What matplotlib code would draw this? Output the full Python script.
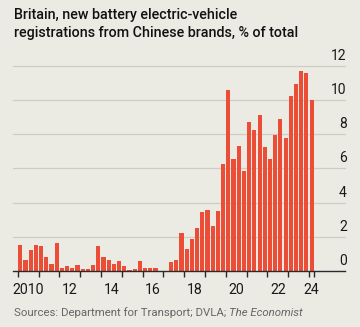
import matplotlib.pyplot as plt
import matplotlib.transforms as mtransforms
import numpy as np

# Quarterly share of new BEV registrations from Chinese brands, 2010 Q1 - 2024 Q1
years = list(range(2010, 2025))
share = [
    1.50, 0.65, 1.20, 1.50,    # 2010
    1.45, 0.80, 0.42, 1.63,    # 2011
    0.20, 0.32, 0.17, 0.36,    # 2012
    0.10, 0.14, 0.37, 1.46,    # 2013
    0.82, 0.62, 0.40, 0.57,    # 2014
    0.30, 0.08, 0.14, 0.56,    # 2015
    0.15, 0.15, 0.15, 0.00,    # 2016
    0.00, 0.50, 0.67, 2.20,    # 2017
    1.26, 1.88, 2.49, 3.47,    # 2018
    3.58, 2.64, 3.51, 6.27,    # 2019
    10.58, 6.52, 7.32, 5.83,   # 2020
    8.68, 8.23, 9.13, 7.22,    # 2021
    6.52, 7.96, 8.87, 7.79,    # 2022
    10.23, 10.93, 11.67, 11.57,  # 2023
    10.02,                     # 2024
]
year_labels = ['2010', '12', '14', '16', '18', '20', '22', '24']
y_ticks = [0, 2, 4, 6, 8, 10, 12]

bg = '#ebeae3'
red = '#eb4d37'
font = ['Roboto', 'DejaVu Sans']

fig = plt.figure(figsize=(3.6, 3.27), dpi=100, facecolor=bg)
ax = fig.add_axes([13 / 360, 1 - 271 / 327, 332 / 360, (271 - 65.7) / 327])
ax.set_facecolor(bg)

# bar left edges sit at the start of each quarter
q = 0.25
x = 2010 + q * np.arange(len(share))
ax.bar(x + q * 0.1, share, width=q * 0.8, align='edge', color=red, linewidth=0, zorder=2)

ax.set_xlim(2009.774, 2025.73)
ax.set_ylim(0, 12)

for s in ax.spines.values():
    s.set_visible(False)
ax.axhline(0, color='#2a2a2a', linewidth=1.0, zorder=3, clip_on=False)
for v in y_ticks[1:]:
    ax.axhline(v, color='#cdccc5', linewidth=0.9, zorder=1, clip_on=False)

# year boundaries as ticks, labels centred in each labelled year
end = x[-1] + q
ax.set_xticks(years + [end])
ax.tick_params(axis='x', length=4.5, width=1.0, color='#2a2a2a', labelbottom=False)
ax.set_yticks([])
label_x = [y + 0.5 for y in years[:-1:2]] + [(years[-1] + end) / 2]
for lx, lab in zip(label_x, year_labels):
    ax.text(lx, -0.7, lab, ha='center', va='top', fontsize=10.2, family=font,
            color='#1a1a1a', transform=ax.transData)

trans = mtransforms.blended_transform_factory(ax.transAxes, ax.transData)
off = mtransforms.ScaledTranslation(0, 3 / 100, fig.dpi_scale_trans)
for v in y_ticks:
    ax.text(1.005, v, str(v), ha='right', va='bottom', fontsize=10, family=font,
            color='#1a1a1a', transform=trans + off)

fig.text(14 / 360, 1 - 19 / 327, 'Britain, new battery electric-vehicle',
         fontsize=10.3, fontweight='medium', family=font, color='#121212', va='baseline')
fig.text(14 / 360, 1 - 36.7 / 327, 'registrations from Chinese brands, % of total',
         fontsize=10.3, fontweight='medium', family=font, color='#121212', va='baseline')
fig.text(14 / 360, 1 - 316 / 327, 'Sources: Department for Transport; DVLA; ',
         fontsize=8.2, family=font, color='#666666', va='baseline')
src = fig.texts[-1]
fig.canvas.draw()
bb = src.get_window_extent()
fig.text(bb.x1 / 360, 1 - 316 / 327, 'The Economist', fontsize=8.2, family=font,
         style='italic', color='#666666', va='baseline')

fig.savefig('out.png', dpi=100, facecolor=bg)
